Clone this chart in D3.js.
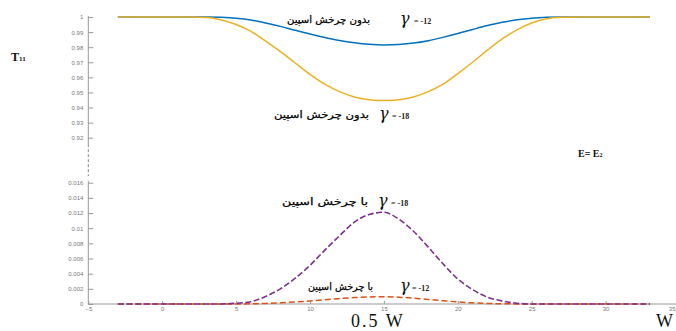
<!DOCTYPE html>
<html>
<head>
<meta charset="utf-8">
<script src="https://cdn.jsdelivr.net/npm/d3@7"></script>
<style>
  html, body { margin: 0; padding: 0; background: #fff; }
  svg { display: block; }
  .tick text { fill: #777; font-family: "Liberation Sans", Arial, sans-serif; font-size: 6px; }
  .tick line, .domain { stroke: #999; }
</style>
</head>
<body>
<svg id="chart" width="676" height="331"></svg>
<script>
// Transmission T11 versus width W, with and without spin rotation
const widths = [-3,-2,-1,0,1,2,3,4,5,6,7,8,9,10,11,12,13,14,15,16,17,18,19,20,21,22,23,24,25,26,27,28,29,30,31,32,33];

// Without spin rotation, gamma = -12
const noSpinG12 = [1,1,1,1,1,1,1,0.9998,0.9992,0.998,0.996,0.9938,0.9912,0.9887,0.9864,0.9844,0.9829,0.9819,0.9815,0.9818,0.9827,0.9843,0.9865,0.989,0.9917,0.9943,0.9965,0.9981,0.9992,0.9998,1,1,1,1,1,1,1];
// Without spin rotation, gamma = -18
const noSpinG18 = [1,1,1,1,1,1,0.9997,0.998,0.995,0.9905,0.984,0.977,0.9695,0.962,0.9555,0.9505,0.947,0.9452,0.9446,0.9452,0.947,0.9505,0.9555,0.9625,0.97,0.978,0.9855,0.9915,0.996,0.9988,0.9998,1,1,1,1,1,1];
// With spin rotation, gamma = -18
const spinG18 = [0,0,0,0,0,0,0,0,0.0001,0.0003,0.001,0.002,0.0034,0.0051,0.0071,0.009,0.0108,0.0118,0.0121,0.0112,0.0096,0.0075,0.0053,0.0033,0.0019,0.0009,0.0004,0.0001,0,0,0,0,0,0,0,0,0];
// With spin rotation, gamma = -12
const spinG12 = [0,0,0,0,0,0,0,0,0,0.00002,0.00008,0.00016,0.00027,0.0004,0.00056,0.00071,0.00085,0.00093,0.00096,0.0009,0.00077,0.0006,0.00043,0.00027,0.00015,0.00007,0.00003,0.00001,0,0,0,0,0,0,0,0,0];

const topTicks = [1,0.99,0.98,0.97,0.96,0.95,0.94,0.93,0.92];
const bottomTicks = [0,0.002,0.004,0.006,0.008,0.01,0.012,0.014,0.016];
const xTicks = [-5,0,5,10,15,20,25,30,35];

const colors = { g12: "#0072BD", g18: "#EDB120", s18: "#7E2F8E", s12: "#D95319" };

const svg = d3.select("#chart");

const x = d3.scaleLinear().domain([-5, 35]).range([88.3, 679.5]);
const yTop = d3.scaleLinear().domain([0.92, 1]).range([137.7, 17]);
const yBot = d3.scaleLinear().domain([0, 0.016]).range([304, 182.7]);

// Upper panel axis
const axTop = svg.append("g").attr("transform", `translate(${x(-5)},0)`)
  .call(d3.axisLeft(yTop).tickValues(topTicks).tickFormat(d => d === 1 ? "1" : d3.format(".2f")(d))
    .tickSizeInner(-5).tickSizeOuter(0).tickPadding(5));
axTop.select(".domain").attr("d", `M0,${yTop(1) - 1}V${yTop(0.9157)}`);
svg.append("line")
  .attr("x1", x(-5)).attr("x2", x(-5))
  .attr("y1", yTop(0.9157)).attr("y2", 176)
  .attr("stroke", "#888").attr("stroke-dasharray", "3,2");

// Lower panel axes
const axBot = svg.append("g").attr("transform", `translate(${x(-5)},0)`)
  .call(d3.axisLeft(yBot).tickValues(bottomTicks).tickFormat(d => d === 0 ? "0" : d3.format(".3~f")(d))
    .tickSizeInner(-5).tickSizeOuter(0).tickPadding(5));
axBot.select(".domain").attr("d", `M0,${yBot(0)}V${yBot(0.01627)}`);

const axX = svg.append("g").attr("transform", `translate(0,${yBot(0)})`)
  .call(d3.axisBottom(x).tickValues(xTicks).tickFormat(d3.format("d"))
    .tickSizeInner(-3).tickSizeOuter(0).tickPadding(3));
axX.select(".domain").attr("d", `M${x(-5)},0H676`);
// last tick label sits against the right edge
axX.selectAll(".tick text").filter(d => d === 35)
  .attr("text-anchor", "end").attr("x", 676 - x(35) - 1);

// Curves
const lineTop = vals => d3.line().x((d, i) => x(widths[i])).y(d => yTop(d)).curve(d3.curveMonotoneX)(vals);
const lineBot = vals => d3.line().x((d, i) => x(widths[i])).y(d => yBot(d)).curve(d3.curveMonotoneX)(vals);

svg.append("path").attr("d", lineTop(noSpinG12)).attr("fill", "none")
  .attr("stroke", colors.g12).attr("stroke-width", 1.5);
svg.append("path").attr("d", lineTop(noSpinG18)).attr("fill", "none")
  .attr("stroke", colors.g18).attr("stroke-width", 1.5);
svg.append("path").attr("d", lineBot(spinG12)).attr("fill", "none")
  .attr("stroke", colors.s12).attr("stroke-width", 1.5).attr("stroke-dasharray", "6,3");
svg.append("path").attr("d", lineBot(spinG18)).attr("fill", "none")
  .attr("stroke", colors.s18).attr("stroke-width", 1.6).attr("stroke-dasharray", "6,2.5");

// Curve annotations: Persian label, gamma symbol, value
const notes = [
  { fa: "بدون چرخش اسپین", val: "= -12", y: 23, x0: 287, x1: 370, gx: 400, vx: 414 },
  { fa: "بدون چرخش اسپین", val: "= -18", y: 118, x0: 274, x1: 369, gx: 379, vx: 392 },
  { fa: "با چرخش اسپین", val: "= -18", y: 204.5, x0: 282, x1: 368, gx: 378, vx: 391 },
  { fa: "با چرخش اسپین", val: "= -12", y: 289.5, x0: 308, x1: 373, gx: 400, vx: 412 }
];
notes.forEach(n => {
  svg.append("text").attr("x", n.x1).attr("y", n.y)
    .attr("text-anchor", "end")
    .attr("textLength", n.x1 - n.x0).attr("lengthAdjust", "spacingAndGlyphs")
    .style("font-family", "'DejaVu Sans', sans-serif").style("font-size", "10px")
    .style("fill", "#000").style("stroke", "#000").style("stroke-width", "0.25px")
    .text(n.fa);
  svg.append("text").attr("x", n.gx).attr("y", n.y + 1)
    .style("font-family", "'DejaVu Serif', serif").style("font-style", "italic")
    .style("font-size", "16px").style("fill", "#111")
    .text("γ");
  svg.append("text").attr("x", n.vx).attr("y", n.y + 1)
    .style("font-family", "'Liberation Serif', serif").style("font-weight", "bold")
    .style("font-size", "8px").style("fill", "#222")
    .text(n.val);
});

// Axis titles and condition label
const tLabel = svg.append("text").attr("x", 11).attr("y", 61)
  .style("font-family", "'Liberation Serif', serif").style("font-weight", "bold")
  .style("font-size", "12px").style("fill", "#111");
tLabel.append("tspan").text("T");
tLabel.append("tspan").style("font-size", "7px").text("11");

const eLabel = svg.append("text").attr("x", 578).attr("y", 157)
  .style("font-family", "'Liberation Serif', serif").style("font-weight", "bold")
  .style("font-size", "10px").style("fill", "#111");
eLabel.append("tspan").text("E= E");
eLabel.append("tspan").style("font-size", "6px").text("2");

svg.append("text").attr("x", 351).attr("y", 327)
  .style("font-family", "'Liberation Serif', serif").style("font-size", "18px")
  .style("letter-spacing", "2px").style("fill", "#111")
  .text("0.5 W");
svg.append("text").attr("x", 656).attr("y", 327)
  .style("font-family", "'Liberation Serif', serif").style("font-size", "18px")
  .style("fill", "#111")
  .text("W");
</script>
</body>
</html>
